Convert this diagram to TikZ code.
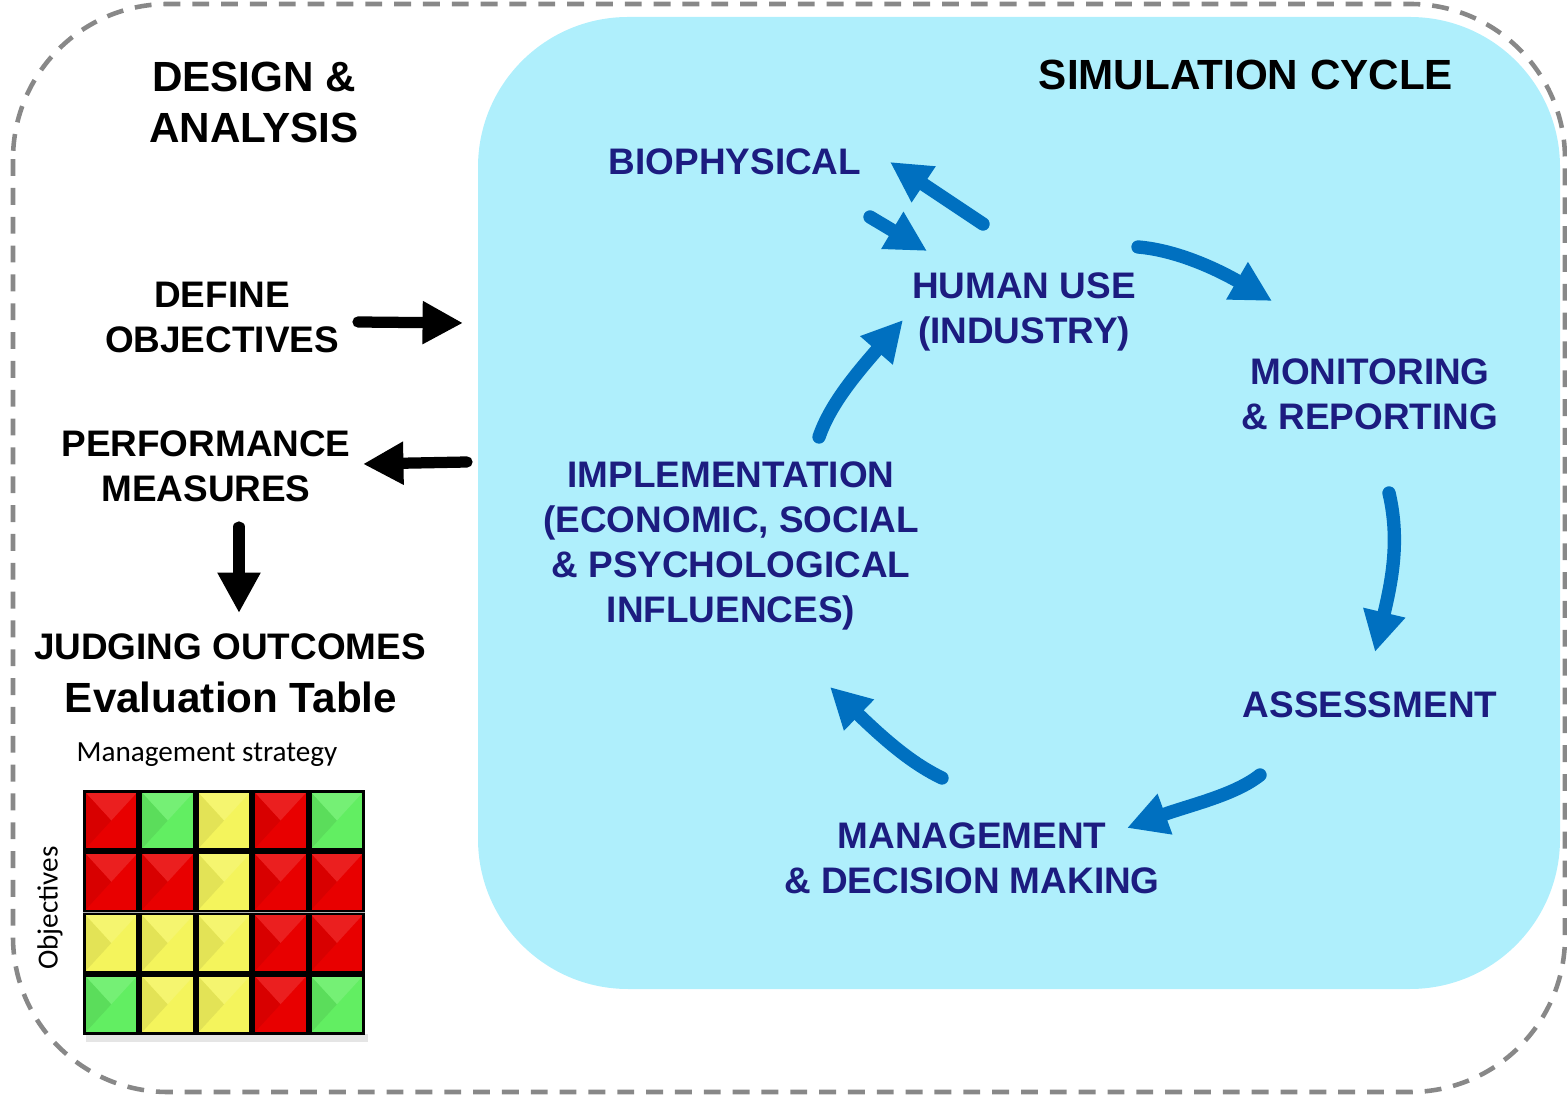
\documentclass[tikz,border=0pt]{standalone}
\usepackage{fontspec}
\setmainfont{Liberation Sans}
\newfontfamily\calibri{Carlito}
\usetikzlibrary{arrows.meta}
\definecolor{cyclebg}{RGB}{175,239,252}
\definecolor{navy}{RGB}{28,28,128}
\definecolor{arrowblue}{RGB}{0,112,192}
\definecolor{framegray}{RGB}{136,136,136}
\definecolor{cellR}{RGB}{232,0,0}
\definecolor{cellG}{RGB}{98,238,98}
\definecolor{cellY}{RGB}{244,244,92}
\begin{document}
\begin{tikzpicture}[x=0.01cm, y=-0.01cm,
    heading/.style={font=\fontsize{12}{14.5}\selectfont\bfseries, align=center, inner sep=0pt},
    sidelabel/.style={font=\fontsize{10.5}{12.8}\selectfont\bfseries, align=center, inner sep=0pt},
    cyclelabel/.style={sidelabel, text=navy},
    flow/.style={arrowblue, line width=3.8pt, line cap=round, -{Triangle[width=11.5pt,length=11.5pt]}},
    push/.style={black, line width=3.2pt, line cap=round, -{Triangle[width=11.5pt,length=11.5pt]}}]
    \useasboundingbox (0,0) rectangle (1567,1095);

    % Frames
    \draw[framegray, line width=1.3pt, dash pattern=on 4.8pt off 3.4pt, rounded corners=1.55cm] (13,4) rectangle (1565,1092);
    \fill[cyclebg, rounded corners=1.5cm] (478,17) rectangle (1560,989);

    % Design & analysis side
    \node[heading] (design) at (254,102) {DESIGN \&\\ANALYSIS};
    \node[sidelabel] (define) at (222,317) {DEFINE\\OBJECTIVES};
    \node[sidelabel] (perf) at (206,466) {PERFORMANCE\\MEASURES};
    \node[sidelabel] (judge) at (230,647) {JUDGING OUTCOMES};
    \node[heading] (evaltab) at (231,697) {Evaluation Table};
    \node[inner sep=0pt, font=\calibri\fontsize{8.3}{10}\selectfont] (strategy) at (207,755) {Management strategy};
    \node[inner sep=0pt, rotate=90, font=\calibri\fontsize{8.3}{10}\selectfont] (objs) at (50,908) {Objectives};

    \coordinate (define-out) at (358,322);
    \coordinate (cycle-in) at (463,323);
    \coordinate (cycle-out) at (467,462);
    \coordinate (perf-in) at (363,464);
    \coordinate (perf-out) at (239,527);
    \coordinate (judge-in) at (239,613);
    \draw[push] (define-out) -- (cycle-in);
    \draw[push] (cycle-out) -- (perf-in);
    \draw[push] (perf-out) -- (judge-in);

    % Evaluation table
    \fill[black!10] (86,1034) rectangle (368,1042);
    \fill[black!30] (83,790) rectangle (365,1035);
    \foreach \rowcols [count=\r from 0] in {{R,G,Y,R,G},{R,R,Y,R,R},{Y,Y,Y,R,R},{G,Y,Y,R,G}} {
        \foreach \k [count=\c from 0] in \rowcols {
            \pgfmathsetmacro\xa{83+56.4*\c+1.5}
            \pgfmathsetmacro\xb{83+56.4*(\c+1)-1.5}
            \pgfmathsetmacro\ya{790+61.25*\r+1.5}
            \pgfmathsetmacro\yb{790+61.25*(\r+1)-1.5}
            \pgfmathsetmacro\xm{(\xa+\xb)/2}
            \pgfmathsetmacro\ym{(\ya+\yb)/2}
            \fill[cell\k] (\xa,\ya) rectangle (\xb,\yb);
            \fill[cell\k!88!white] (\xa,\ya) -- (\xb,\ya) -- (\xm,\ym) -- cycle;
            \fill[cell\k!93!black] (\xa,\ya) -- (\xa,\yb) -- (\xm,\ym) -- cycle;
            \draw[black, line width=0.8pt] (\xa,\ya) rectangle (\xb,\yb);
        }
    }

    % Simulation cycle
    \node[heading] (simcycle) at (1246,75) {SIMULATION CYCLE};
    \node[cyclelabel] (bio) at (735,162) {BIOPHYSICAL};
    \node[cyclelabel] (human) at (1024,312) {HUMAN USE\\(INDUSTRY)};
    \node[cyclelabel] (monitor) at (1370,394) {MONITORING\\\& REPORTING};
    \node[cyclelabel] (assess) at (1370,705) {ASSESSMENT};
    \node[cyclelabel] (manage) at (972,858) {MANAGEMENT\\\& DECISION MAKING};
    \node[cyclelabel] (implement) at (731,546) {IMPLEMENTATION\\(ECONOMIC, SOCIAL\\\& PSYCHOLOGICAL\\INFLUENCES)};

    \coordinate (human-up) at (983,224);
    \coordinate (bio-in) at (890,162);
    \coordinate (bio-down) at (870,217);
    \coordinate (human-in) at (927,251);
    \coordinate (human-out) at (1138,247);
    \coordinate (monitor-in) at (1272,301);
    \coordinate (monitor-out) at (1389,493);
    \coordinate (assess-in) at (1375,652);
    \coordinate (assess-out) at (1260,775);
    \coordinate (manage-in) at (1127,828);
    \coordinate (manage-out) at (942,778);
    \coordinate (implement-in) at (830,687);
    \coordinate (implement-out) at (819,437);
    \coordinate (human-left) at (903,320);
    \draw[flow] (human-up) -- (bio-in);
    \draw[flow] (bio-down) -- (human-in);
    \draw[flow] (human-out) .. controls (1175,250) and (1215,268) .. (monitor-in);
    \draw[flow] (monitor-out) .. controls (1400,540) and (1392,580) .. (assess-in);
    \draw[flow] (assess-out) .. controls (1235,795) and (1190,805) .. (manage-in);
    \draw[flow] (manage-out) .. controls (915,765) and (890,745) .. (implement-in);
    \draw[flow] (implement-out) .. controls (830,405) and (855,375) .. (human-left);
\end{tikzpicture}
\end{document}
